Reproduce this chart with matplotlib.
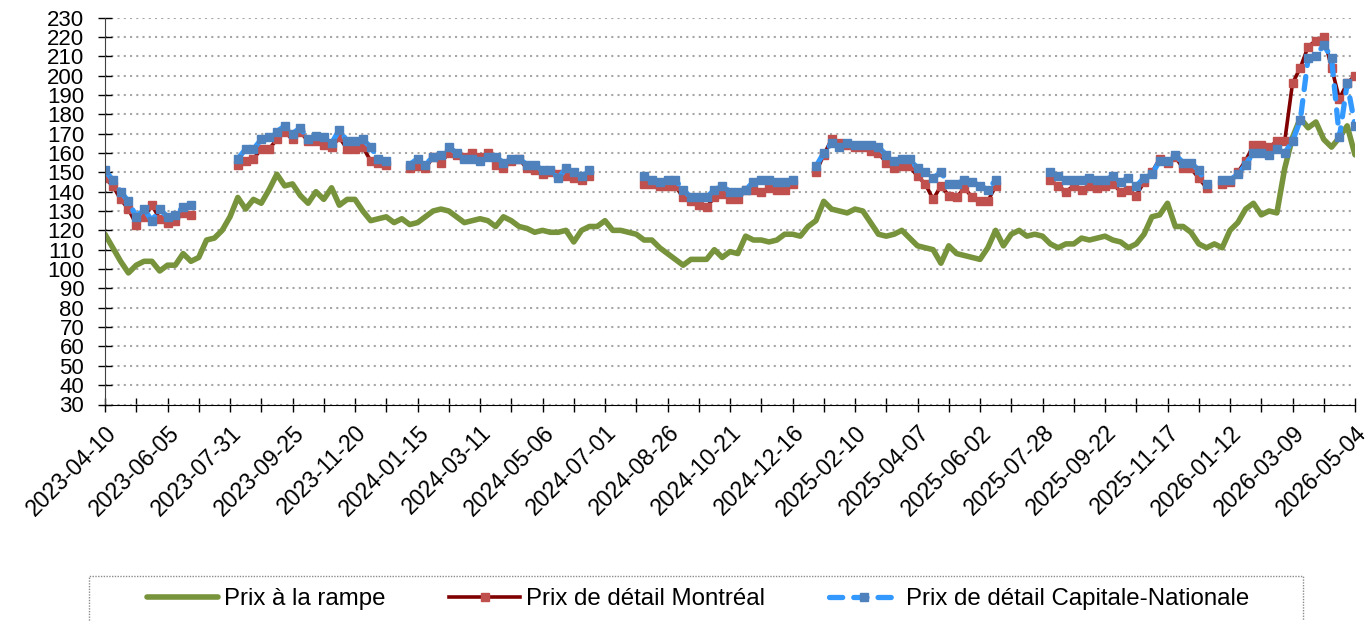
import numpy as np
import pandas as pd
import matplotlib
matplotlib.use("Agg")
import matplotlib.pyplot as plt
from matplotlib.patches import Rectangle
from matplotlib.transforms import ScaledTranslation

plt.rcParams["font.family"] = ["Liberation Sans", "DejaVu Sans"]

# weekly dates, one label every 8 weeks
weeks = pd.date_range("2023-04-10", "2026-05-04", freq="7D")

N = None  # no retail price that week

prix_rampe = [
    118, 111, 104, 98, 102, 104, 104, 99, 102, 102, 108, 104, 106, 115, 116, 120,
    127, 137, 131, 136, 134, 141, 149, 143, 144, 138, 134, 140, 136, 142, 133, 136,
    136, 130, 125, 126, 127, 124, 126, 123, 124, 127, 130, 131, 130, 127, 124, 125,
    126, 125, 122, 127, 125, 122, 121, 119, 120, 119, 119, 120, 114, 120, 122, 122,
    125, 120, 120, 119, 118, 115, 115, 111, 108, 105, 102, 105, 105, 105, 110, 106,
    109, 108, 117, 115, 115, 114, 115, 118, 118, 117, 122, 125, 135, 131, 130, 129,
    131, 130, 124, 118, 117, 118, 120, 116, 112, 111, 110, 103, 112, 108, 107, 106,
    105, 111, 120, 112, 118, 120, 117, 118, 117, 113, 111, 113, 113, 116, 115, 116,
    117, 115, 114, 111, 113, 118, 127, 128, 134, 122, 122, 119, 113, 111, 113, 111,
    120, 124, 131, 134, 128, 130, 129, 152, 168, 178, 173, 176, 167, 163, 168, 174,
    159,
]

prix_montreal = [
    147, 143, 136, 131, 123, 127, 133, 126, 124, 125, 129, 128, N, N, N, N,
    N, 154, 156, 157, 162, 162, 167, 171, 167, 171, 166, 166, 164, 163, 168, 162,
    162, 163, 156, 155, 154, N, N, 152, 153, 152, 158, 155, 160, 159, 158, 160,
    158, 160, 154, 152, 156, 157, 152, 151, 149, 150, 149, 148, 147, 146, 148, N,
    N, N, N, N, N, 144, 144, 143, 143, 143, 137, 135, 133, 132, 137, 139,
    136, 136, 141, 141, 140, 142, 141, 141, 144, N, N, 150, 159, 167, 165, 164,
    163, 163, 161, 160, 155, 152, 153, 153, 148, 144, 136, 143, 138, 137, 142, 137,
    135, 135, 143, N, N, N, N, N, N, 146, 143, 140, 143, 141, 143, 142,
    143, 144, 140, 141, 138, 145, 150, 157, 155, 158, 152, 152, 147, 142, N, 144,
    145, 150, 156, 164, 164, 163, 166, 166, 196, 204, 215, 218, 220, 204, 188, 196,
    200,
]

prix_capitale = [
    151, 146, 140, 135, 127, 131, 125, 131, 127, 128, 132, 133, N, N, N, N,
    N, 157, 162, 162, 167, 168, 171, 174, 170, 173, 167, 169, 168, 165, 172, 166,
    166, 167, 163, 157, 156, N, N, 154, 157, 154, 158, 159, 163, 160, 157, 157,
    156, 158, 158, 155, 157, 157, 154, 154, 151, 151, 147, 152, 150, 148, 151, N,
    N, N, N, N, N, 148, 146, 145, 146, 146, 141, 137, 137, 137, 141, 143,
    140, 140, 141, 145, 146, 146, 145, 145, 146, N, N, 153, 160, 165, 163, 165,
    164, 164, 164, 163, 159, 156, 157, 157, 152, 150, 147, 150, 144, 144, 146, 145,
    143, 141, 146, N, N, N, N, N, N, 150, 148, 146, 146, 146, 147, 146,
    146, 148, 145, 147, 143, 147, 149, 156, 156, 159, 155, 155, 151, 144, N, 146,
    146, 149, 154, 160, 160, 159, 162, 160, 166, 177, 209, 210, 216, 209, 168, 196,
    174,
]


def to_array(values):
    return np.array([np.nan if v is None else v for v in values], dtype=float)


x = np.arange(len(weeks))

fig = plt.figure(figsize=(13.69, 6.21), dpi=100)
ax = fig.add_axes([105 / 1369, 1 - 404.5 / 621, (1355 - 105) / 1369, (404.5 - 17.5) / 621])

ax.plot(x, to_array(prix_rampe), color="#77933C", lw=4,
        solid_joinstyle="round", solid_capstyle="round", label="Prix à la rampe")
ax.plot(x, to_array(prix_montreal), color="#800000", lw=2.6,
        marker="s", ms=6, mfc="#C0504D", mec="#C0504D",
        label="Prix de détail Montréal")
ax.plot(x, to_array(prix_capitale), color="#3399FF", lw=3.8, ls=(0, (2.5, 2.1)),
        dash_capstyle="round", marker="s", ms=6, mfc="#4F81BD", mec="#4F81BD",
        label="Prix de détail Capitale-Nationale")

ax.set_xlim(0, len(weeks) - 1)
ax.set_ylim(30, 230)
ax.set_yticks(np.arange(30, 231, 10))
ax.yaxis.grid(True, color="#A6A6A6", ls=(0, (1, 2)), lw=1.5)
ax.set_axisbelow(True)

tick_pos = x[::4]
tick_lab = [weeks[i].strftime("%Y-%m-%d") if i % 8 == 0 else "" for i in tick_pos]
ax.set_xticks(tick_pos)
ax.set_xticklabels(tick_lab, rotation=45, ha="right", va="top", rotation_mode="anchor",
                   fontsize=16.5)
shift = ScaledTranslation(-9 / 100, 0, fig.dpi_scale_trans)
for lab in ax.get_xticklabels():
    lab.set_transform(lab.get_transform() + shift)

ax.tick_params(axis="both", direction="inout", length=10, width=1, colors="black")
ax.tick_params(axis="y", pad=10, labelsize=16)
ax.tick_params(axis="x", pad=7)

for side in ["top", "right"]:
    ax.spines[side].set_visible(False)
ax.spines["left"].set_color("#404040")
ax.spines["bottom"].set_color("black")

# legend box, dotted, runs off the bottom of the figure
fig.patches.append(Rectangle((89 / 1369, -0.05), (1303 - 89) / 1369, (621 - 575.5) / 621 + 0.05,
                             transform=fig.transFigure, fill=False, ls=(0, (1, 1)),
                             ec="#8C8C8C", lw=1))
fig.legend(loc="center", bbox_to_anchor=(698 / 1369, 1 - 599 / 621), ncol=3,
           frameon=False, fontsize=17.3, handlelength=2.95, handletextpad=0.25,
           columnspacing=2.65)

fig.savefig("out.png", dpi=100)
